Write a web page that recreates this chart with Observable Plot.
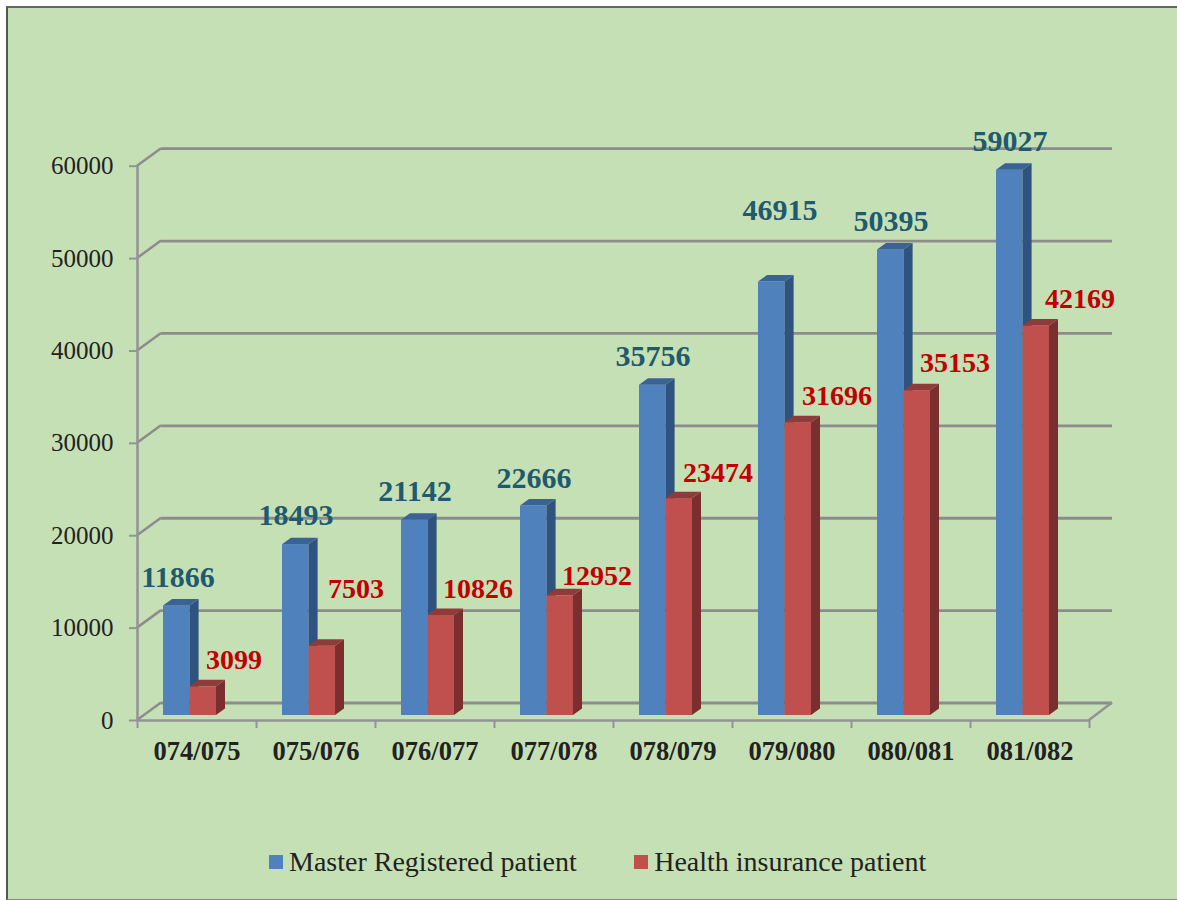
<!DOCTYPE html>
<html><head><meta charset="utf-8">
<script src="https://cdn.jsdelivr.net/npm/d3@7"></script>
<script src="https://cdn.jsdelivr.net/npm/@observablehq/plot@0.6"></script>
<style>
html,body{margin:0;padding:0;background:#fff;overflow:hidden}
#panel{position:absolute;left:6px;top:6px;width:1171px;height:894px;box-sizing:border-box;background:#c6e0b5;border-left:2px solid #555;border-top:2px solid #666;border-bottom:1px solid #888;font-family:"Liberation Serif",serif}
#panel svg{display:block}
#legend{display:flex;align-items:center;margin-top:57px;padding-left:261px;height:34px;font-size:28px;color:#222;white-space:nowrap}
#legend i{display:inline-block;width:14px;height:14px;margin-right:6px}
#legend span{margin-right:57.5px}
</style></head><body>
<div id="panel"></div>
<script>
const years = ["074/075","075/076","076/077","077/078","078/079","079/080","080/081","081/082"];
const master = [11866,18493,21142,22666,35756,46915,50395,59027];
const insurance = [3099,7503,10826,12952,23474,31696,35153,42169];
const yTicks = [0,10000,20000,30000,40000,50000,60000];
const seriesNames = ["Master Registered patient","Health insurance patient"];
// label nudges relative to the column-band centre / bar height
const masterNudge = [[-19,-33],[-20,-34],[-20,-34],[-20,-33],[-20,-34],[-12,-77],[-20,-34],[-20,-34]];
const insuranceNudge = [[37,-32],[40,-62],[43,-31],[43,-25],[45,-31],[45,-32],[44,-33],[50,-32]];

const W = 1169, H = 780, mL = 129, mR = 88, mT = 157.7, mB = 68;
const step = (W - mL - mR) / years.length;
const wallDx = 24, wallEndDx = 23, wallDy = -17.5, barDx = 9, barDy = -6.5, grid = "#8c8c8c", axis = "#919397";

function box3d(sideFill, topFill) {
  return (index, scales, values, dims, ctx, next) => {
    const g = next(index, scales, values, dims, ctx);
    const sel = d3.select(g);
    sel.selectAll("rect").each(function () {
      const x = +this.getAttribute("x"), y = +this.getAttribute("y"),
            w = +this.getAttribute("width"), h = +this.getAttribute("height");
      sel.append("polygon").attr("fill", sideFill).attr("stroke","none")
        .attr("points", `${x+w},${y} ${x+w+barDx},${y+barDy} ${x+w+barDx},${y+h+barDy} ${x+w},${y+h}`);
      sel.append("polygon").attr("fill", topFill).attr("stroke","none")
        .attr("points", `${x},${y} ${x+barDx},${y+barDy} ${x+w+barDx},${y+barDy} ${x+w},${y}`);
    });
    return g;
  };
}
function diagonals(index, scales, values, dims, ctx, next) {
  const g = d3.select(ctx.document.createElementNS("http://www.w3.org/2000/svg","g"));
  const ln = (x1,y1,x2,y2,c) => g.append("line").attr("x1",x1).attr("y1",y1).attr("x2",x2).attr("y2",y2)
    .attr("stroke",c).attr("stroke-width",2.5);
  for (const t of yTicks) ln(mL, scales.y(t), mL+wallDx, scales.y(t)+wallDy, grid);
  const xr = dims.width - mR;
  ln(xr, scales.y(0), xr+wallEndDx, scales.y(0)+wallDy, axis);
  return g.node();
}
const labelMarks = (vals, nudges, fill, size) => vals.map((v,i) => Plot.text([{c:years[i],v}], {
  x:"c", y:"v", text:d=>String(d.v), dx:nudges[i][0], dy:nudges[i][1], fill,
  fontSize:size, fontWeight:"bold", fontFamily:"Liberation Serif", textAnchor:"middle"
}));
const rows = a => years.map((c,i)=>({c,v:a[i]}));

const chart = Plot.plot({
  width:W, height:H, marginLeft:mL, marginRight:mR, marginTop:mT, marginBottom:mB,
  style:{background:"transparent",overflow:"visible",fontFamily:"Liberation Serif"},
  x:{type:"band",domain:years,padding:0,round:false,label:null},
  y:{domain:[0,60000],label:null,grid:false},
  marks:[
    Plot.ruleY(yTicks,{y:d=>d,dy:wallDy,insetLeft:wallDx,insetRight:-wallEndDx,stroke:grid,strokeWidth:2.8}),
    Plot.ruleY([0],{render:diagonals}),
    Plot.ruleY([0],{y:d=>d,stroke:axis,strokeWidth:2.5}),
    Plot.ruleX([0],{x:()=>years[0],dx:-step/2,y1:0,y2:60000,stroke:axis,strokeWidth:2.5}),
    Plot.ruleX(years,{x:d=>d,dx:-step/2,y1:0,y2:0,insetBottom:-8,stroke:axis,strokeWidth:2}),
    Plot.ruleX([years[7]],{x:d=>d,dx:step/2,y1:0,y2:0,insetBottom:-8,stroke:axis,strokeWidth:2}),
    Plot.axisY({ticks:yTicks,tickFormat:d=>String(d),tickSize:8,tickPadding:16,stroke:axis,strokeWidth:2,fill:"#222",fontSize:25,label:null,fontFamily:"Liberation Serif",anchor:"left"}),
    Plot.axisX({tickSize:0,tickPadding:21,fill:"#222",fontSize:26.5,fontWeight:"bold",label:null,fontFamily:"Liberation Serif",anchor:"bottom"}),
    Plot.barY(rows(master),{x:"c",y:"v",fill:"#4f81bd",insetLeft:26,insetRight:step-52.6,dy:-5,render:box3d("#30527e","#3a6296")}),
    Plot.barY(rows(insurance),{x:"c",y:"v",fill:"#c0504d",insetLeft:52.6,insetRight:step-79,dy:-5,render:box3d("#7a2f2e","#903b39")}),
    ...labelMarks(master,masterNudge,"#1f5a6e",30),
    ...labelMarks(insurance,insuranceNudge,"#c00000",28)
  ]
});
const panel = document.getElementById("panel");
panel.appendChild(chart);
const legend = document.createElement("div");
legend.id = "legend";
legend.innerHTML = `<i style="background:#4f81bd"></i><span>${seriesNames[0]}</span><i style="background:#c0504d"></i><span>${seriesNames[1]}</span>`;
panel.appendChild(legend);
</script></body></html>
